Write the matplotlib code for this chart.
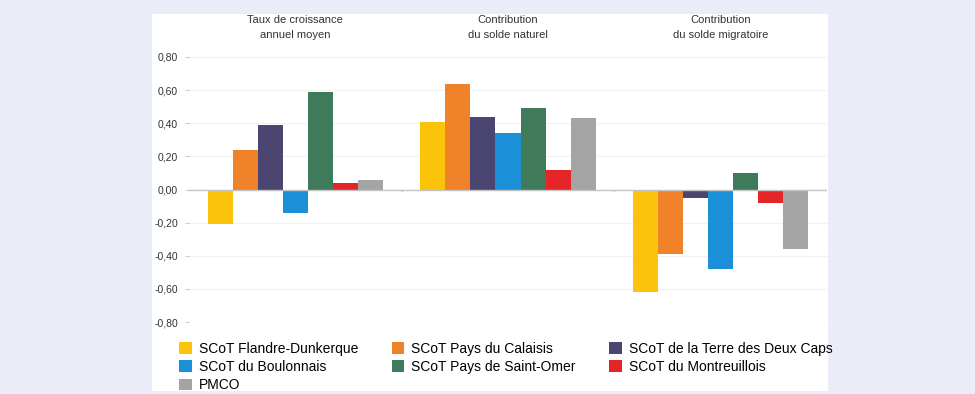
import numpy as np
import matplotlib
matplotlib.use("Agg")
import matplotlib.pyplot as plt
from matplotlib.patches import Rectangle, Patch

plt.rcParams['font.family'] = ['Liberation Sans', 'DejaVu Sans']

groups = ["Taux de croissance\nannuel moyen",
          "Contribution\ndu solde naturel",
          "Contribution\ndu solde migratoire"]
territories = ["SCoT Flandre-Dunkerque", "SCoT Pays du Calaisis",
               "SCoT de la Terre des Deux Caps", "SCoT du Boulonnais",
               "SCoT Pays de Saint-Omer", "SCoT du Montreuillois", "PMCO"]
colors = ["#fcc30b", "#f0832a", "#4b4571", "#1b90d9", "#3f7b5b", "#e52427", "#a4a4a4"]

# one list per territory: taux, solde naturel, solde migratoire
flandre = [-0.21, 0.41, -0.62]
calaisis = [0.24, 0.64, -0.39]
deux_caps = [0.39, 0.44, -0.05]
boulonnais = [-0.14, 0.34, -0.48]
saint_omer = [0.59, 0.49, 0.10]
montreuillois = [0.04, 0.12, -0.08]
pmco = [0.06, 0.43, -0.36]
series = [flandre, calaisis, deux_caps, boulonnais, saint_omer, montreuillois, pmco]

yticks = [-0.8, -0.6, -0.4, -0.2, 0.0, 0.2, 0.4, 0.6, 0.8]

W, H = 975, 394
fig = plt.figure(figsize=(W / 100, H / 100), dpi=100)
fig.patch.set_facecolor("#eaedf7")
fig.add_artist(Rectangle((152 / W, 1 - 391 / H), (828 - 152) / W, (391 - 14) / H,
                         transform=fig.transFigure, facecolor="white",
                         edgecolor="none", zorder=0))

ax = fig.add_axes([189 / W, 1 - 322 / H, (827 - 189) / W, (322 - 57) / H])
ax.patch.set_alpha(0)

x = np.arange(len(groups))
bw = 0.1176
n = len(series)
for i, (vals, c) in enumerate(zip(series, colors)):
    ax.bar(x + (i - (n - 1) / 2) * bw, vals, width=bw, color=c, zorder=3)

ax.set_xlim(-0.5, len(groups) - 0.5)
ax.set_ylim(-0.8, 0.8)
ax.set_yticks(yticks)
ax.set_yticklabels([f"{v:.2f}".replace(".", ",") for v in yticks],
                   fontsize=7.5, color="#333333")
ax.tick_params(axis="y", length=3, color="#cccccc", pad=5)
ax.set_xticks([])
for s in ax.spines.values():
    s.set_visible(False)
ax.yaxis.grid(True, color="#f1f1f1", linewidth=0.8, zorder=0)
ax.axhline(0, color="#c4c4c4", linewidth=1.0, zorder=4)
for b in np.arange(0.5, len(groups) - 1, 1.0):
    ax.plot([b, b], [-0.012, 0.0], color="#c4c4c4", linewidth=0.8,
            clip_on=False, zorder=4)

for xi, g in zip(x, groups):
    ax.text(xi, 0.9, g, ha="center", va="bottom", fontsize=8,
            color="#333333", linespacing=1.65)

order = [0, 3, 6, 1, 4, 2, 5]
handles = [Patch(facecolor=colors[k], edgecolor="none") for k in order]
labels = [territories[k] for k in order]
fig.legend(handles, labels, loc="upper left", ncol=3,
           bbox_to_anchor=(179 / W, 1 - 342 / H), frameon=False,
           fontsize=10, handlelength=0.93, handleheight=0.93,
           handletextpad=0.5, columnspacing=2.4, labelspacing=0.3,
           borderpad=0, borderaxespad=0)

fig.savefig("out.png", dpi=100, facecolor=fig.get_facecolor())
